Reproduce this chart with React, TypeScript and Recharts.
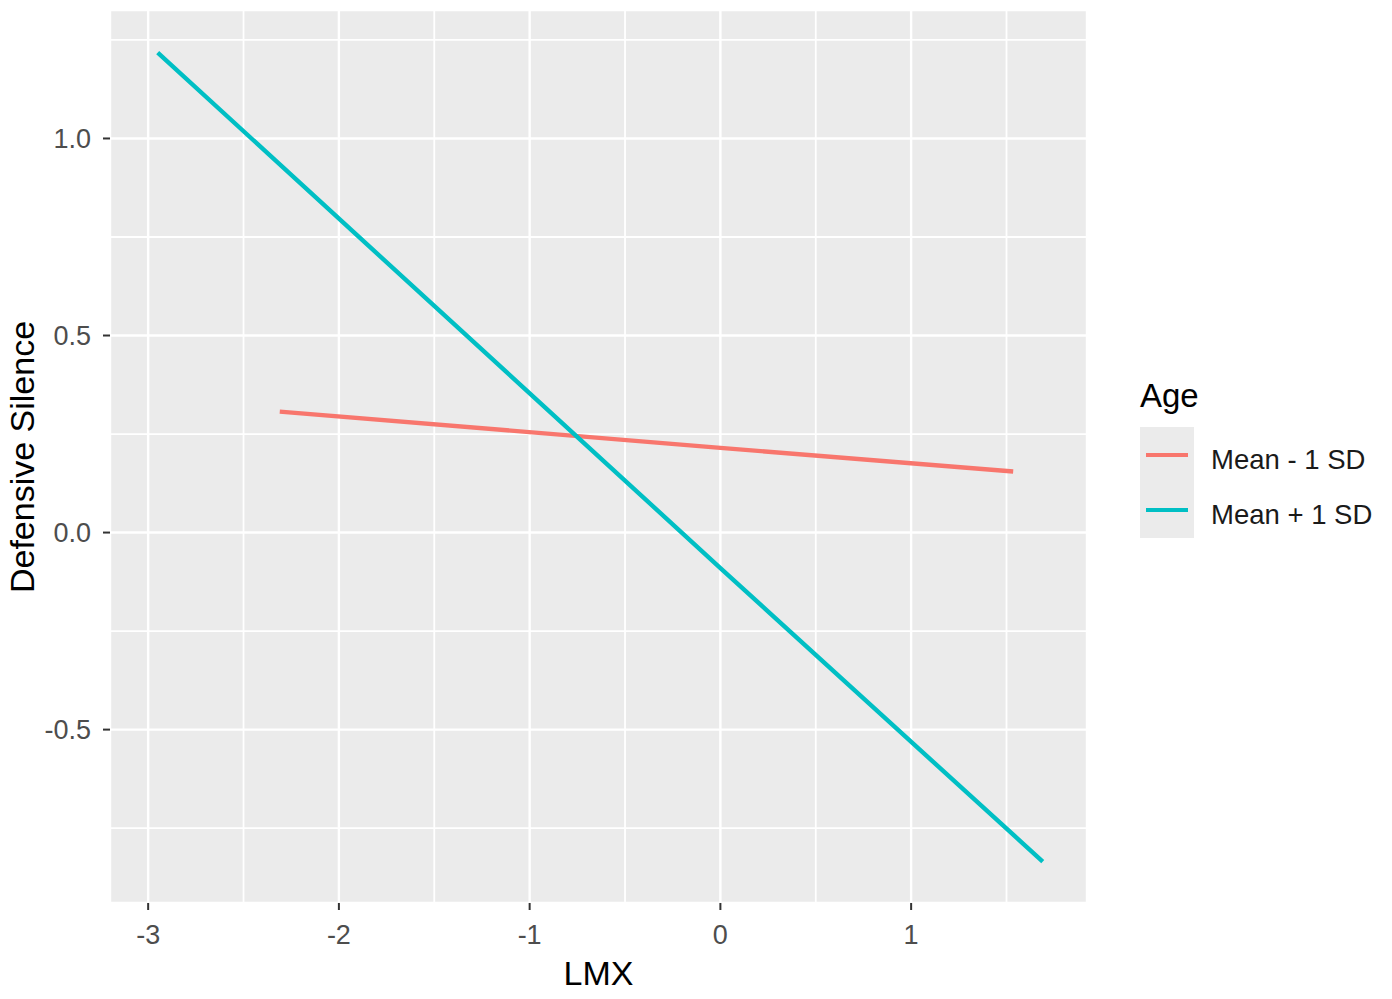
import { LineChart, Line, XAxis, YAxis, CartesianGrid } from "recharts";

// x axis (LMX) and y axis (Defensive Silence)
const xTicks = [-3, -2, -1, 0, 1];
const yTicks = [-0.5, 0, 0.5, 1];
const xMinor = [-2.5, -1.5, -0.5, 0.5, 1.5];
const yMinor = [-0.75, -0.25, 0.25, 0.75, 1.25];
const xDomain = [-3.2, 1.922];
const yDomain = [-0.94, 1.326];

// simple slopes
const lowAge = [
  { lmx: -2.31, silence: 0.307 },
  { lmx: 0, silence: 0.215 },
  { lmx: 1.535, silence: 0.155 },
];
const highAge = [
  { lmx: -2.95, silence: 1.218 },
  { lmx: 0, silence: -0.09 },
  { lmx: 1.69, silence: -0.835 },
];

const series = [
  { name: "Mean - 1 SD", color: "#F8766D", data: lowAge },
  { name: "Mean + 1 SD", color: "#00BFC4", data: highAge },
];

const FONT = '"Liberation Sans", Arial, sans-serif';

function AgeLegend() {
  return (
    <div style={{ position: "absolute", left: 1140, top: 376, fontFamily: FONT }}>
      <div style={{ fontSize: 33, lineHeight: "40px", color: "#000" }}>Age</div>
      <div style={{ marginTop: 11 }}>
        {series.map((s) => (
          <div key={s.name} style={{ display: "flex", alignItems: "center", height: 55.5 }}>
            <div
              style={{
                width: 54,
                height: 55.5,
                background: "#EBEBEB",
                display: "flex",
                alignItems: "center",
                justifyContent: "center",
              }}
            >
              <div style={{ width: 42, height: 4, background: s.color }} />
            </div>
            <div style={{ marginLeft: 17, marginTop: 10, fontSize: 27.5, color: "#1a1a1a" }}>
              {s.name}
            </div>
          </div>
        ))}
      </div>
    </div>
  );
}

export default function App() {
  return (
    <div style={{ position: "absolute", left: 0, top: 0, width: 1392, height: 999, background: "#fff" }}>
      <LineChart
        width={1392}
        height={999}
        margin={{ top: 10, right: 305, bottom: 36, left: 40 }}
        style={{ fontFamily: FONT }}
      >
        {/* minor grid from hidden axes */}
        <CartesianGrid
          xAxisId="minor"
          yAxisId="minor"
          fill="#EBEBEB"
          stroke="#FFFFFF"
          strokeWidth={1.8}
        />
        <CartesianGrid stroke="#FFFFFF" strokeWidth={2.4} />
        <XAxis
          xAxisId="minor"
          dataKey="lmx"
          type="number"
          domain={xDomain}
          ticks={xMinor}
          allowDataOverflow
          hide
        />
        <YAxis
          yAxisId="minor"
          dataKey="silence"
          type="number"
          domain={yDomain}
          ticks={yMinor}
          allowDataOverflow
          hide
        />
        <XAxis
          dataKey="lmx"
          type="number"
          domain={xDomain}
          ticks={xTicks}
          allowDataOverflow
          height={60}
          axisLine={false}
          tickSize={7}
          tickMargin={15}
          tickLine={{ stroke: "#333333", strokeWidth: 2 }}
          tick={{ fill: "#4D4D4D", fontSize: 27 }}
          label={{
            content: () => (
              <text x={598.5} y={985} textAnchor="middle" fontSize={34} fill="#000">
                LMX
              </text>
            ),
          }}
        />
        <YAxis
          dataKey="silence"
          type="number"
          domain={yDomain}
          ticks={yTicks}
          tickFormatter={(v: number) => v.toFixed(1)}
          allowDataOverflow
          width={70}
          axisLine={false}
          tickSize={7}
          tickMargin={12}
          tickLine={{ stroke: "#333333", strokeWidth: 2 }}
          tick={{ fill: "#4D4D4D", fontSize: 27 }}
          label={{
            content: () => (
              <text
                x={34}
                y={457}
                textAnchor="middle"
                fontSize={34}
                fill="#000"
                transform="rotate(-90, 34, 457)"
              >
                Defensive Silence
              </text>
            ),
          }}
        />
        {series.map((s) => (
          <Line
            key={s.name}
            data={s.data}
            dataKey="silence"
            name={s.name}
            stroke={s.color}
            strokeWidth={4.4}
            dot={false}
            activeDot={false}
            isAnimationActive={false}
          />
        ))}
      </LineChart>
      <AgeLegend />
    </div>
  );
}
